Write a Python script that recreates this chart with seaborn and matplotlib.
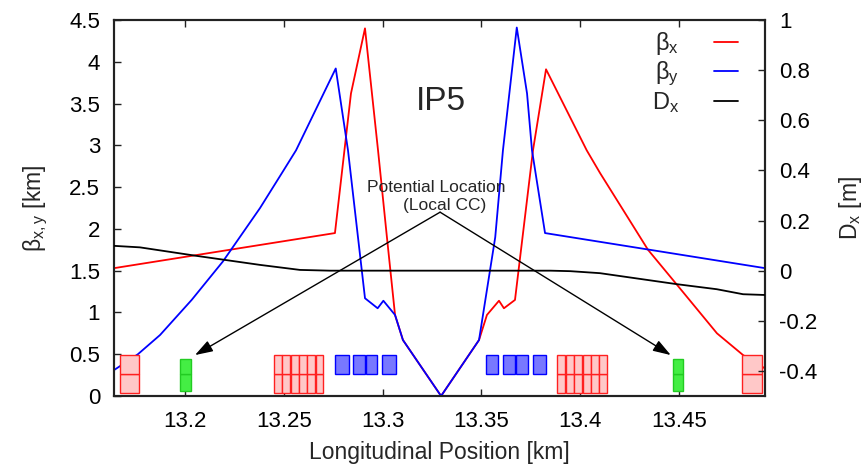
import numpy as np
import pandas as pd
import seaborn as sns
import matplotlib
matplotlib.use("Agg")
import matplotlib.pyplot as plt
from matplotlib.patches import Rectangle

# ---------------- data ----------------
bx_s = [13.1641, 13.2759, 13.2840, 13.2911, 13.2977, 13.3022, 13.3063, 13.3103,
        13.3296, 13.3488, 13.3528, 13.3589, 13.3614, 13.3670, 13.3761, 13.3827,
        13.4033, 13.4100, 13.4343, 13.4490, 13.4692, 13.4824, 13.4935]
bx_v = [1.53, 1.95, 3.62, 4.40, 2.94, 1.90, 0.97, 0.67,
        0.0, 0.67, 0.97, 1.14, 1.05, 1.15, 2.94, 3.91,
        2.94, 2.67, 1.75, 1.33, 0.75, 0.49, 0.33]

by_s = [13.1641, 13.1762, 13.1874, 13.2034, 13.2192, 13.2380, 13.2491, 13.2562,
        13.2763, 13.2825, 13.2911, 13.2975, 13.3004, 13.3063, 13.3103, 13.3296,
        13.3488, 13.3570, 13.3609, 13.3679, 13.3731, 13.3756, 13.3822, 13.4935]
by_v = [0.31, 0.50, 0.73, 1.15, 1.61, 2.25, 2.67, 2.94,
        3.92, 2.94, 1.17, 1.05, 1.14, 0.97, 0.67, 0.0,
        0.67, 1.90, 2.94, 4.41, 3.62, 2.94, 1.95, 1.53]

dx_s = [13.1641, 13.1772, 13.2059, 13.2380, 13.2582, 13.2734, 13.3850, 13.3950,
        13.4100, 13.4490, 13.4691, 13.4824, 13.4935]
dx_v = [0.099, 0.093, 0.059, 0.023, 0.003, 0.0, 0.0, -0.002,
        -0.010, -0.054, -0.074, -0.094, -0.097]

# magnet elements (start, end) in km
red_quads = [(13.1671, 13.1767),
             (13.2450, 13.2489), (13.2492, 13.2531), (13.2536, 13.2575),
             (13.2577, 13.2616), (13.2620, 13.2659), (13.2662, 13.2700),
             (13.3884, 13.3924), (13.3928, 13.3968), (13.3970, 13.4009),
             (13.4013, 13.4053), (13.4055, 13.4094), (13.4097, 13.4137),
             (13.4820, 13.4918)]
blue_mags = [(13.2761, 13.2831), (13.2852, 13.2912), (13.2916, 13.2973), (13.2998, 13.3066),
             (13.3522, 13.3585), (13.3611, 13.3670), (13.3675, 13.3734), (13.3760, 13.3827)]
green_cc = [(13.1975, 13.2030), (13.4471, 13.4522)]

xticks = [13.2, 13.25, 13.3, 13.35, 13.4, 13.45]
xticklabels = ["13.2", "13.25", "13.3", "13.35", "13.4", "13.45"]
yticks_l = [0, 0.5, 1, 1.5, 2, 2.5, 3, 3.5, 4, 4.5]
yticklabels_l = ["0", "0.5", "1", "1.5", "2", "2.5", "3", "3.5", "4", "4.5"]
yticks_r = [-0.4, -0.2, 0, 0.2, 0.4, 0.6, 0.8, 1]
yticklabels_r = ["-0.4", "-0.2", "0", "0.2", "0.4", "0.6", "0.8", "1"]

# ---------------- style ----------------
sns.set_theme(style="white")
plt.rcParams["font.family"] = ["Liberation Sans", "DejaVu Sans"]
plt.rcParams["mathtext.default"] = "regular"

fig = plt.figure(figsize=(8.63, 4.70), dpi=100)
L, R, B, T = 114 / 863, 765 / 863, (470 - 396) / 470, (470 - 20) / 470
ax = fig.add_axes([L, B, R - L, T - B])
ax2 = ax.twinx()

df_bx = pd.DataFrame({"s": bx_s, "v": bx_v})
df_by = pd.DataFrame({"s": by_s, "v": by_v})
df_dx = pd.DataFrame({"s": dx_s, "v": dx_v})

lw = 1.3
sns.lineplot(data=df_bx, x="s", y="v", ax=ax, color="#ff0000", lw=lw, estimator=None,
             sort=False, label=r"$\beta_x$", legend=False, zorder=3)
sns.lineplot(data=df_by, x="s", y="v", ax=ax, color="#0000ff", lw=lw, estimator=None,
             sort=False, label=r"$\beta_y$", legend=False, zorder=3)
sns.lineplot(data=df_dx, x="s", y="v", ax=ax2, color="black", lw=lw, estimator=None,
             sort=False, label=r"$D_x$", legend=False, zorder=3)

# magnets
for s0, s1 in red_quads:
    for y0, y1 in [(0.03, 0.26), (0.26, 0.49)]:
        ax.add_patch(Rectangle((s0, y0), s1 - s0, y1 - y0, facecolor="#ffc8c8",
                               edgecolor="#ff2020", lw=1.0, zorder=4))
for s0, s1 in blue_mags:
    ax.add_patch(Rectangle((s0, 0.26), s1 - s0, 0.23, facecolor="#7878ff",
                           edgecolor="#0000ff", lw=1.0, zorder=4))
for s0, s1 in green_cc:
    for y0, y1 in [(0.06, 0.26), (0.26, 0.44)]:
        ax.add_patch(Rectangle((s0, y0), s1 - s0, y1 - y0, facecolor="#44ee44",
                               edgecolor="#22cc22", lw=1.0, zorder=4))

ax.set_xlim(13.1641, 13.4935)
ax.set_ylim(0, 4.5)
ax2.set_ylim(-0.5, 1.0)

ax.set_xticks(xticks)
ax.set_xticklabels(xticklabels)
ax.set_yticks(yticks_l)
ax.set_yticklabels(yticklabels_l)
ax2.set_yticks(yticks_r)
ax2.set_yticklabels(yticklabels_r)

fs = 16
ax.tick_params(axis="x", direction="in", length=5, width=1, top=True, bottom=True,
               labelsize=fs, pad=11, colors="#222222", labelcolor="black")
ax.tick_params(axis="y", direction="in", length=5, width=1, left=True, right=False,
               labelsize=fs, pad=10, colors="#222222", labelcolor="black")
ax2.tick_params(axis="y", direction="in", length=5, width=1, right=True, left=False,
                labelsize=fs, pad=10, colors="#222222", labelcolor="black")
for a in (ax, ax2):
    for sp in a.spines.values():
        sp.set_visible(True)
        sp.set_color("#222222")
        sp.set_linewidth(1.5)

ax.set_xlabel("Longitudinal Position [km]", fontsize=16.5, labelpad=6)
ax.set_ylabel(r"$\beta_{x,y}$ [km]", fontsize=16.5, labelpad=14)
ax2.set_ylabel(r"$D_x$ [m]", fontsize=16.5, labelpad=14)

# annotations
ax.text(13.3296, 3.52, "IP5", fontsize=24, ha="center", va="center", zorder=5)
ax.text(13.3271, 2.50, "Potential Location", fontsize=12.5, ha="center", va="center", zorder=5)
ax.text(13.3313, 2.28, "(Local CC)", fontsize=12.5, ha="center", va="center", zorder=5)
for tip in [(13.2051, 0.49), (13.4458, 0.49)]:
    ax.annotate("", xy=tip, xytext=(13.3291, 2.20),
                arrowprops=dict(arrowstyle="-|>,head_length=0.9,head_width=0.3",
                                color="black", lw=1.0, shrinkA=0, shrinkB=0),
                zorder=5)

# legend
h1, l1 = ax.get_legend_handles_labels()
h2, l2 = ax2.get_legend_handles_labels()
leg = ax2.legend(h1 + h2, l1 + l2, loc="upper right", markerfirst=False, frameon=False,
                 fontsize=17, handlelength=1.0, handletextpad=1.5, labelspacing=0.1,
                 borderpad=0, borderaxespad=0,
                 bbox_to_anchor=(738 / 863, (470 - 30) / 470), bbox_transform=fig.transFigure)
for t in leg.get_texts():
    t.set_ha("right")

fig.savefig("out.png", dpi=100)
